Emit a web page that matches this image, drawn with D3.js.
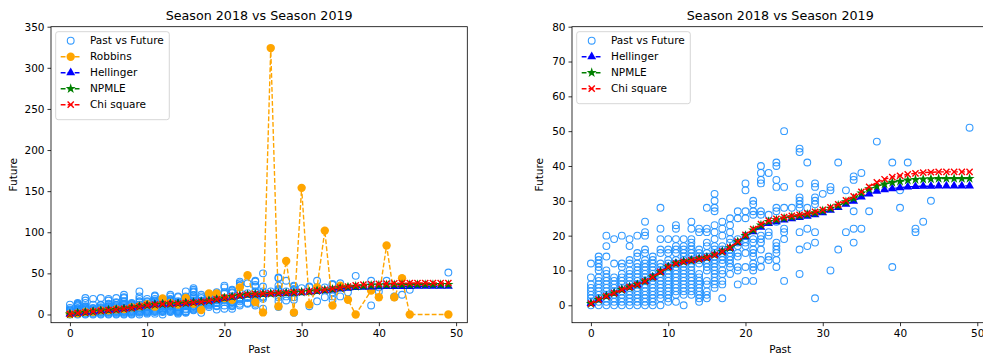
<!DOCTYPE html>
<html><head><meta charset="utf-8">
<script src="https://cdn.jsdelivr.net/npm/d3@7"></script>
<style>body{margin:0;background:#fff}svg{display:block;font-family:"DejaVu Sans",sans-serif}</style>
</head><body><svg id="c" width="983" height="357"></svg>
<script>
// ---------- data ----------
const pastValues = d3.range(50);
const scatterFuture = [
  [0,1,2,3,4,5,6,8,12],
  [0,1,2,3,4,5,6,7,8,10,11,12,13,14],
  [0,1,2,3,4,5,6,7,8,9,10,14,17,20],
  [0,1,2,3,4,5,6,7,8,12,19],
  [0,1,2,3,4,5,6,7,8,9,11,12,20],
  [0,1,2,3,4,5,6,7,8,9,10,12,13,17,19],
  [0,1,2,3,4,5,6,7,8,9,10,11,12,14,15,20],
  [0,1,2,3,4,5,6,7,8,9,10,11,12,13,15,16,20,21,24],
  [0,1,2,3,4,5,6,7,8,9,10,11,12,13,14],
  [0,2,3,4,5,6,7,8,9,10,11,12,15,16,19,22,28],
  [1,2,3,4,5,6,7,8,9,10,11,12,13,15,16,19],
  [1,3,4,5,6,7,8,9,10,11,12,13,15,16,17,19,22,23],
  [0,3,4,5,6,7,8,9,10,11,12,13,14,15,16,17,19],
  [3,4,5,6,7,8,9,10,11,12,13,14,15,16,17,18,19,22,24],
  [1,2,3,4,5,6,7,8,9,12,13,14,15,16,21,22],
  [2,3,4,6,7,10,11,12,13,14,15,17,18,21,22,28],
  [5,6,7,8,9,10,11,12,13,14,15,16,17,19,21,23,27,28,30,32],
  [2,6,7,9,10,12,13,14,15,16,17,20,22,24],
  [9,11,12,13,14,15,16,18,19,21,23,25],
  [6,10,11,14,15,17,18,19,25,27],
  [7,11,15,17,18,19,20,25,27,33,35],
  [7,10,11,12,14,15,16,18,19,26,27,29,30],
  [11,13,16,18,19,20,26,27,35,36,38,40],
  [13,14,20,21,26,38],
  [11,13,15,16,17,18,24,27,28,34,36,40,41],
  [7,19,21,22,28,34,50],
  [28],
  [9,16,21,28,29,30,31,35,44,45],
  [17,22,28,41],
  [2,18,21,29,30,31,34,35],
  [32],
  [10,33,34],
  [16,41],
  [21,33],
  [18,22,27,36,37],
  [22,38],
  [27],
  [47],
  [],
  [11,41],
  [28,33],
  [41],
  [21,22],
  [24],
  [30],
  [],[],[],[],
  [51]
];
const robbinsPast  = [0,1,2,3,4,5,6,7,8,9,10,11,12,13,14,15,16,17,18,19,20,21,22,23,24,25,26,27,28,29,30,31,32,33,34,35,36,37,39,40,41,42,43,44,49];
const robbinsValue = [0.6,1.5,3.2,3.4,5.0,5.0,6.3,6.5,8.8,10.0,12.5,9.5,19.5,14,12,20,13,5.5,25.5,25.5,20,18,33,47.8,15,2.5,324,10,65,2.5,154,12,33,102,11,35,18,0,29,21,84,21,44,0,0];
const hellinger = [0.5,1.6,2.6,3.5,4.5,5.2,5.9,6.9,8.1,9.6,11.0,12.0,12.5,12.9,13.3,13.7,14.5,15.4,16.4,18.0,19.7,21.1,22.4,23.5,24.0,24.5,24.9,25.2,25.6,26.0,26.6,27.3,28.1,29.0,29.9,31.1,32.0,32.8,33.2,33.5,33.8,34.0,34.1,34.2,34.2,34.3,34.3,34.3,34.3,34.3];
const npmle     = [0.5,1.6,2.6,3.5,4.5,5.2,5.9,6.9,8.1,9.6,11.0,12.0,12.5,12.9,13.3,13.7,14.5,15.4,16.5,18.2,20.0,21.6,23.0,24.0,24.5,25.0,25.4,25.7,26.1,26.5,27.1,27.8,28.7,29.7,30.7,32.2,33.4,34.2,34.8,35.3,35.6,35.9,36.1,36.2,36.3,36.4,36.4,36.4,36.4,36.4];
const chiSquare = [0.5,1.6,2.6,3.5,4.5,5.2,5.9,6.9,8.1,9.6,11.0,12.0,12.5,12.9,13.3,13.7,14.5,15.4,16.6,18.3,20.2,21.9,23.3,24.3,24.8,25.3,25.7,26.0,26.4,26.8,27.4,28.1,29.0,30.1,31.3,32.6,34.0,35.3,36.2,36.8,37.2,37.6,37.9,38.1,38.2,38.3,38.3,38.3,38.3,38.3];
const xTicks = [0,10,20,30,40,50];
const leftYTicks = [0,50,100,150,200,250,300,350];
const rightYTicks = [0,10,20,30,40,50,60,70,80];
const titleText = "Season 2018 vs Season 2019";
const xLabel = "Past", yLabel = "Future";

// ---------- drawing ----------
const svg = d3.select("#c");
const C = {scatter:"#1e90ff", robbins:"orange", hell:"blue", npmle:"green", chi:"red"};
const FS = 10.5, TFS = 12.7;
const scatterPts = [];
scatterFuture.forEach((arr,i)=>arr.forEach(v=>scatterPts.push([pastValues[i], v])));

const triangle = d3.symbol().type(d3.symbolTriangle).size(34);
const star = d3.symbol().type(d3.symbolStar).size(32);
function xPath(s){return `M${-s},${-s}L${s},${s}M${-s},${s}L${s},${-s}`;}

function drawMarker(g, type, cx, cy){
  if(type==="scatter") g.append("circle").attr("cx",cx).attr("cy",cy).attr("r",3.4).attr("fill","none").attr("stroke",C.scatter).attr("stroke-width",1.1).attr("opacity",0.9);
  else if(type==="robbins") g.append("circle").attr("cx",cx).attr("cy",cy).attr("r",4.2).attr("fill",C.robbins);
  else if(type==="hell") g.append("path").attr("d",triangle()).attr("transform",`translate(${cx},${cy})`).attr("fill",C.hell);
  else if(type==="npmle") g.append("path").attr("d",star()).attr("transform",`translate(${cx},${cy})`).attr("fill",C.npmle);
  else if(type==="chi") g.append("path").attr("d",xPath(3.1)).attr("transform",`translate(${cx},${cy})`).attr("stroke",C.chi).attr("stroke-width",1.4).attr("fill","none");
}

const panels = [
  {id:"L", x0:51, x1:467.3, yDomain:[-10,350], yTicks:leftYTicks, robbins:true, ylabX:13,
   legend:{x:55.7, y:31.7, w:113.6}},
  {id:"R", x0:572, x1:988.5, yDomain:[-5,80], yTicks:rightYTicks, robbins:false, ylabX:539,
   legend:{x:576.7, y:31.7, w:113.6}}
];
const yTop = 26.7, yBottom = 322.7;

panels.forEach(p=>{
  const x = d3.scaleLinear().domain([-2.45,51.45]).range([p.x0,p.x1]);
  const y = d3.scaleLinear().domain(p.yDomain).range([yBottom, yTop]);
  const g = svg.append("g");
  g.append("defs").append("clipPath").attr("id","clip"+p.id)
    .append("rect").attr("x",p.x0).attr("y",yTop).attr("width",p.x1-p.x0).attr("height",yBottom-yTop);
  const plot = g.append("g").attr("clip-path",`url(#clip${p.id})`);

  scatterPts.forEach(d=>drawMarker(plot,"scatter",x(d[0]),y(d[1])));

  const line = d3.line().x(d=>x(d[0])).y(d=>y(d[1]));
  const series = [];
  if(p.robbins) series.push({key:"robbins", data:robbinsPast.map((v,i)=>[v,robbinsValue[i]])});
  series.push({key:"hell", data:pastValues.map((v,i)=>[v,hellinger[i]])});
  series.push({key:"npmle", data:pastValues.map((v,i)=>[v,npmle[i]])});
  series.push({key:"chi", data:pastValues.map((v,i)=>[v,chiSquare[i]])});
  series.forEach(s=>{
    plot.append("path").attr("d",line(s.data)).attr("fill","none").attr("stroke",C[s.key])
      .attr("stroke-width",1.4).attr("stroke-dasharray","4.8,2.2");
    s.data.forEach(d=>drawMarker(plot,s.key,x(d[0]),y(d[1])));
  });

  g.append("rect").attr("x",p.x0).attr("y",yTop).attr("width",p.x1-p.x0).attr("height",yBottom-yTop)
    .attr("fill","none").attr("stroke","#000").attr("stroke-width",0.8);

  const ax = g.append("g").attr("transform",`translate(0,${yBottom})`)
    .call(d3.axisBottom(x).tickValues(xTicks).tickSize(3.5).tickPadding(3).tickFormat(d3.format("d")));
  const ay = g.append("g").attr("transform",`translate(${p.x0},0)`)
    .call(d3.axisLeft(y).tickValues(p.yTicks).tickSize(3.5).tickPadding(3).tickFormat(d3.format("d")));
  [ax,ay].forEach(a=>{
    a.select(".domain").remove();
    a.selectAll("line").attr("stroke","#000").attr("stroke-width",0.8);
    a.selectAll("text").attr("font-size",FS).attr("fill","#000").attr("font-family","DejaVu Sans");
  });

  const cx = (p.x0+p.x1)/2;
  g.append("text").attr("x",cx).attr("y",19.5).attr("text-anchor","middle").attr("font-size",TFS).text(titleText);
  g.append("text").attr("x",cx).attr("y",353).attr("text-anchor","middle").attr("font-size",FS).text(xLabel);
  g.append("text").attr("transform",`translate(${p.ylabX},${(yTop+yBottom)/2}) rotate(-90)`)
    .attr("text-anchor","middle").attr("dy","0.35em").attr("font-size",FS).text(yLabel);

  const items = [{key:"scatter",label:"Past vs Future"}];
  if(p.robbins) items.push({key:"robbins",label:"Robbins"});
  items.push({key:"hell",label:"Hellinger"},{key:"npmle",label:"NPMLE"},{key:"chi",label:"Chi square"});
  const L = p.legend;
  const rowH = 16, h = 8 + items.length*rowH;
  const lg = g.append("g");
  lg.append("rect").attr("x",L.x).attr("y",L.y).attr("width",L.w).attr("height",h).attr("rx",2.5)
    .attr("fill","#fff").attr("fill-opacity",0.8).attr("stroke","#ccc").attr("stroke-width",0.8);
  items.forEach((it,i)=>{
    const ry = L.y + 9 + i*rowH;
    if(it.key!=="scatter"){
      lg.append("line").attr("x1",L.x+5).attr("x2",L.x+25).attr("y1",ry).attr("y2",ry)
        .attr("stroke",C[it.key]).attr("stroke-width",1.4).attr("stroke-dasharray","4.8,2.2");
    }
    drawMarker(lg,it.key,L.x+15,ry);
    lg.append("text").attr("x",L.x+34.3).attr("y",ry).attr("dy","0.35em").attr("font-size",FS).text(it.label);
  });
});
</script></body></html>
